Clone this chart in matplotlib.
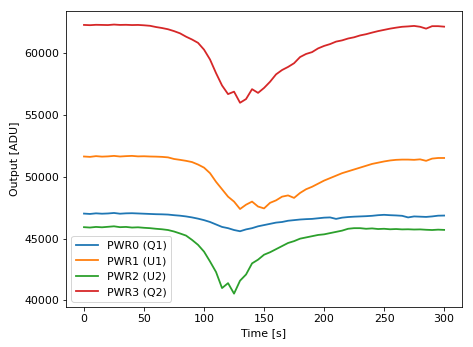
import numpy as np
import matplotlib
matplotlib.use('Agg')
import matplotlib.pyplot as plt

plt.rcParams['font.size'] = 11

# Time axis / время
time_s = np.arange(0, 301, 5)

# Readings per channel (ADU)
pwr0_q1 = [47030, 47000, 47050, 47020, 47040, 47080, 47020, 47050, 47060, 47040,
           47020, 47000, 46980, 46970, 46950, 46900, 46860, 46800, 46720, 46620,
           46500, 46350, 46150, 45950, 45850, 45700, 45600, 45750, 45850, 46000,
           46100, 46200, 46300, 46350, 46450, 46500, 46550, 46580, 46600, 46650,
           46700, 46720, 46600, 46700, 46750, 46780, 46800, 46820, 46850, 46900,
           46930, 46900, 46880, 46850, 46720, 46800, 46780, 46760, 46800, 46860,
           46870]
pwr1_u1 = [51650, 51620, 51680, 51640, 51660, 51700, 51650, 51680, 51700, 51660,
           51670, 51650, 51640, 51620, 51580, 51450, 51380, 51300, 51200, 51000,
           50750, 50300, 49600, 49000, 48400, 48000, 47400, 47750, 48000, 47600,
           47450, 47900, 48100, 48400, 48500, 48300, 48700, 49000, 49200, 49450,
           49700, 49900, 50100, 50300, 50450, 50600, 50750, 50900, 51050, 51150,
           51250, 51330, 51380, 51400, 51400, 51380, 51420, 51300, 51480, 51530,
           51530]
pwr2_u2 = [45930, 45900, 45950, 45920, 45960, 46000, 45930, 45950, 45900, 45920,
           45880, 45850, 45800, 45760, 45700, 45580, 45420, 45250, 44900, 44500,
           43950, 43150, 42300, 41000, 41400, 40550, 41600, 42100, 43000, 43300,
           43700, 43900, 44150, 44400, 44650, 44800, 45000, 45100, 45200, 45300,
           45350, 45450, 45550, 45650, 45800, 45850, 45850, 45800, 45830, 45780,
           45800, 45760, 45780, 45750, 45760, 45740, 45750, 45720, 45700, 45730,
           45710]
pwr3_q2 = [62300, 62280, 62310, 62300, 62290, 62330, 62300, 62310, 62290, 62300,
           62270, 62230, 62130, 62050, 61950, 61800, 61620, 61350, 61120, 60850,
           60300, 59500, 58400, 57400, 56700, 56900, 56000, 56300, 57100, 56800,
           57200, 57700, 58300, 58650, 58900, 59200, 59700, 59950, 60100, 60400,
           60600, 60750, 60950, 61050, 61200, 61300, 61450, 61550, 61680, 61800,
           61900, 62000, 62080, 62150, 62180, 62220, 62150, 62000, 62200, 62200,
           62160]

labels = ['PWR0 (Q1)', 'PWR1 (U1)', 'PWR2 (U2)', 'PWR3 (Q2)']

fig = plt.figure(figsize=(473 / 72, 347 / 72), dpi=72)
ax = fig.add_axes([0.1395, 0.115, 0.8375, 0.853])

for series, lab in zip([pwr0_q1, pwr1_u1, pwr2_u2, pwr3_q2], labels):
    ax.plot(time_s, series, lw=1.8, label=lab)

ax.set_xlabel('Time [s]')
ax.set_ylabel('Output [ADU]')
ax.set_xticks([0, 50, 100, 150, 200, 250, 300])
ax.set_yticks([40000, 45000, 50000, 55000, 60000])
ax.legend(loc='lower left')

fig.savefig('out.png', dpi=72)
